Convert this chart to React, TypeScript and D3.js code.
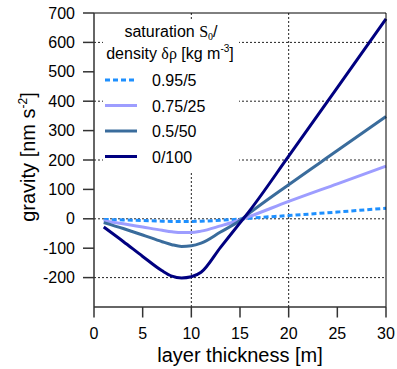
import React from "react";
import * as d3 from "d3";

const thickness = [1, 3, 5, 7, 8, 9, 10, 11, 13, 15, 16, 20, 25, 30];
const s095 = [-2, -4, -6, -8, -9, -9, -9, -8, -5, -1, 2, 11, 23, 36];
const s075 = [-7, -17, -28, -39, -44, -47, -47, -42, -24, -4, 8, 59, 119, 179];
const s050 = [-13, -33, -55, -78, -88, -94, -92, -83, -45, -6, 20, 116, 232, 348];
const s000 = [-28, -77, -128, -177, -195, -201, -197, -182, -97, -14, 28, 213, 446, 680];

const seriesLabels = ["0.95/5", "0.75/25", "0.5/50", "0/100"];
const seriesColors = ["#1e90ff", "#9d9dff", "#3a6c9c", "#000080"];
const seriesDash = ["5,3", null, null, null];
const xTicks = [0, 5, 10, 15, 20, 25, 30];
const yTicks = [-200, -100, 0, 100, 200, 300, 400, 500, 600, 700];
const yGrid = [-200, 0, 200, 400, 600];
const xGrid = [10, 20];

export default function App() {
  const W = 397, H = 369;
  const x = d3.scaleLinear().domain([0, 30]).range([94, 386]);
  const y = d3.scaleLinear().domain([-300, 700]).range([307, 13]);
  const allSeries = [s095, s075, s050, s000];
  const line = d3
    .line<[number, number]>()
    .x((d) => x(d[0]))
    .y((d) => y(d[1]))
    .curve(d3.curveMonotoneX);
  const font = "Liberation Sans, Arial, sans-serif";
  const serif = "Liberation Serif, Times New Roman, serif";
  const [x0, x1] = x.range();
  const [y0, y1] = y.range();

  return (
    <svg width={W} height={H} style={{ position: "absolute", left: 0, top: 0, background: "#fff" }} fontFamily={font}>
      {yGrid.map((v) => (
        <line key={"hg" + v} x1={x0} x2={x1} y1={y(v)} y2={y(v)} stroke="#222" strokeWidth={1} strokeDasharray="2,2" />
      ))}
      {xGrid.map((v) => (
        <line key={"vg" + v} x1={x(v)} x2={x(v)} y1={y1} y2={y0} stroke="#222" strokeWidth={1} strokeDasharray="2,2" />
      ))}
      <rect x={103} y={19} width={136} height={153} fill="#fff" />
      {/* legend */}
      <text x={171} y={37} textAnchor="middle" fontSize={16}>
        saturation <tspan fontFamily={serif}>S</tspan>
        <tspan fontFamily={serif} fontSize={10} dy={3}>0</tspan>
        <tspan dy={-3}>/</tspan>
      </text>
      <text x={170} y={59} textAnchor="middle" fontSize={16}>
        density <tspan fontFamily={serif}>δρ</tspan> [kg m
        <tspan fontSize={10} dy={-7}>-3</tspan>
        <tspan dy={7}>]</tspan>
      </text>
      {seriesLabels.map((lab, i) => {
        const ly = 80 + i * 25.5;
        return (
          <g key={lab}>
            <line x1={105} x2={137} y1={ly} y2={ly} stroke={seriesColors[i]} strokeWidth={3} strokeDasharray={seriesDash[i] ?? undefined} />
            <text x={152} y={ly + 6} fontSize={16}>{lab}</text>
          </g>
        );
      })}
      {allSeries.map((s, i) => (
        <path
          key={"s" + i}
          d={line(thickness.map((t, j) => [t, s[j]] as [number, number])) ?? ""}
          fill="none"
          stroke={seriesColors[i]}
          strokeWidth={3}
          strokeDasharray={seriesDash[i] ?? undefined}
        />
      ))}
      {/* box */}
      <line x1={x0} x2={x1} y1={y1} y2={y1} stroke="#000" strokeWidth={1} />
      <line x1={x1} x2={x1} y1={y1} y2={y0} stroke="#000" strokeWidth={1} />
      {/* axes */}
      <line x1={x0} x2={x0} y1={y1} y2={y0} stroke="#333" strokeWidth={1.5} />
      <line x1={x0} x2={x1} y1={y0} y2={y0} stroke="#333" strokeWidth={1.5} />
      {yTicks.map((v) => (
        <g key={"yt" + v}>
          <line x1={x0 - 11} x2={x0} y1={y(v)} y2={y(v)} stroke="#333" strokeWidth={1.5} />
          <text x={75} y={y(v) + 5.5} textAnchor="end" fontSize={16}>{v}</text>
        </g>
      ))}
      {xTicks.map((v) => (
        <g key={"xt" + v}>
          <line x1={x(v)} x2={x(v)} y1={y0} y2={y0 + 10.5} stroke="#333" strokeWidth={1.5} />
          <text x={x(v)} y={339} textAnchor="middle" fontSize={16}>{v}</text>
        </g>
      ))}
      <text x={240} y={362} textAnchor="middle" fontSize={20}>layer thickness [m]</text>
      <text transform="translate(35,157) rotate(-90)" textAnchor="middle" fontSize={20}>
        gravity [nm s<tspan fontSize={12} dy={-8}>-2</tspan><tspan dy={8}>]</tspan>
      </text>
    </svg>
  );
}
